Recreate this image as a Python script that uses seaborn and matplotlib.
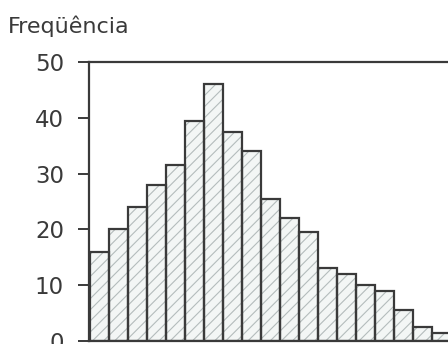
import matplotlib
matplotlib.use("Agg")
import matplotlib.pyplot as plt
import seaborn as sns
import pandas as pd

# Data
bins = list(range(1, 20))
freq = [16, 20, 24, 28, 31.5, 39.5, 46, 37.5, 34, 25.5, 22, 19.5, 13, 12, 10, 9, 5.5, 2.5, 1.5]
yticks = [0, 10, 20, 30, 40, 50]
ylabel = "Freqüência"

df = pd.DataFrame({"bin": bins, "freq": freq})

sns.set_theme(style="white")
plt.rcParams["font.family"] = ["DejaVu Sans"]
plt.rcParams["hatch.linewidth"] = 0.8

W, H = 448, 344
fig = plt.figure(figsize=(W / 100, H / 100), dpi=100)
ax = fig.add_axes([89 / W, 3 / H, 400 / W, 279 / H])

ink = "#3a3a3a"
# hatched fill layer
sns.barplot(data=df, x="bin", y="freq", ax=ax, width=1.0, color="#f3f6f5",
            saturation=1, edgecolor="#b4bcbc", linewidth=0, hatch="///")
# outline layer
sns.barplot(data=df, x="bin", y="freq", ax=ax, width=1.0, fill=False,
            color=ink, saturation=1, edgecolor=ink, linewidth=1.6)

ax.set_xlim(-0.55, 20.5)
ax.set_ylim(0, 50)
ax.set_xticks([])
ax.set_yticks(yticks)
ax.set_yticklabels([str(t) for t in yticks], fontsize=16.5, color="#3a3a3a")
ax.tick_params(axis="y", direction="out", length=8, width=1.4, color=ink,
               pad=10, left=True)
ax.set_xlabel("")
ax.set_ylabel("")
for side in ["left", "top", "bottom", "right"]:
    ax.spines[side].set_visible(True)
    ax.spines[side].set_color(ink)
    ax.spines[side].set_linewidth(1.6)

fig.text(8 / W, 1 - 26 / H, ylabel, fontsize=16, color="#3a3a3a",
         ha="left", va="center")

fig.savefig("out.png", dpi=100, facecolor="white")
